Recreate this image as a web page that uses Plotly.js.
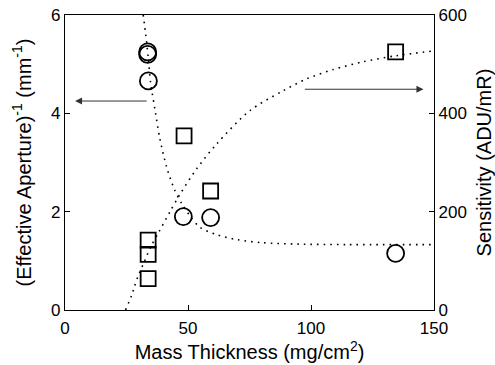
<!DOCTYPE html>
<html>
<head>
<meta charset="utf-8">
<script src="https://cdn.plot.ly/plotly-3.0.1.min.js"></script>
<style>html,body{margin:0;padding:0;background:#fff;}#chart{width:495px;height:365px;}</style>
</head>
<body>
<div id="chart"></div>
<script>
// Measured points: inverse effective aperture (left axis, circles)
var apertureX = [33.6, 33.6, 33.9, 48.1, 59.2, 134.4];
var apertureY = [5.25, 5.20, 4.66, 1.90, 1.88, 1.15];
// Measured points: sensitivity (right axis, squares)
var sensX = [33.8, 33.8, 33.8, 48.4, 59.2, 134.4];
var sensY = [142, 113, 64, 354, 242, 525];
var apFitX = [31.8, 32.8, 33.8, 34.8, 36.5, 38.5, 41.3, 44.5, 47.4, 51, 54.9, 61.7, 70, 80, 95, 115, 150];
var apFitY = [6.0, 5.6, 5.15, 4.62, 4.1, 3.5, 2.91, 2.45, 2.17, 1.9, 1.68, 1.53, 1.43, 1.37, 1.34, 1.33, 1.33];
var sensFitX = [24.6, 27.1, 28.2, 29.5, 32.2, 35, 38.2, 42.7, 46.7, 53.5, 61.7, 75, 88.7, 98.2, 109, 121.3, 134.4, 150];
var sensFitY = [0, 30, 47, 66, 98, 130, 159, 200, 235, 287, 338, 405, 446, 470, 489, 505, 517, 527];
// Axis ticks
var xTicks = [0, 50, 100, 150];
var yTicks = [0, 2, 4, 6];
var y2Ticks = [0, 200, 400, 600];

var FONT = 'Liberation Sans, Arial, Helvetica, sans-serif';
var dotDash = '1.6px,5px';

var traces = [
  {x: apFitX, y: apFitY, mode: 'lines', line: {shape: 'spline', smoothing: 0.8, color: '#000', width: 1.6, dash: dotDash}, hoverinfo: 'skip', yaxis: 'y'},
  {x: sensFitX, y: sensFitY, mode: 'lines', line: {shape: 'spline', smoothing: 0.8, color: '#000', width: 1.6, dash: dotDash}, hoverinfo: 'skip', yaxis: 'y2'},
  {x: apertureX, y: apertureY, mode: 'markers', marker: {symbol: 'circle-open', size: 17, color: '#000', line: {color: '#000', width: 1.8}}, yaxis: 'y'},
  {x: sensX, y: sensY, mode: 'markers', marker: {symbol: 'square-open', size: 15, color: '#000', line: {color: '#000', width: 1.8}}, yaxis: 'y2'}
];

var layout = {
  width: 495, height: 365,
  margin: {l: 65, r: 61, t: 15, b: 55},
  paper_bgcolor: '#fff', plot_bgcolor: '#fff',
  showlegend: false,
  font: {family: FONT, size: 17, color: '#000'},
  xaxis: {
    range: [0, 150], tickvals: xTicks, ticktext: xTicks.map(String),
    ticks: 'inside', ticklen: 5, tickwidth: 1, tickcolor: '#000',
    showline: true, linecolor: '#000', linewidth: 1.2, mirror: true,
    showgrid: false, zeroline: false, ticklabelstandoff: 2,
    tickfont: {family: FONT, size: 17},
    title: {text: 'Mass Thickness (mg/cm<sup>2</sup>)', font: {family: FONT, size: 20}, standoff: 0}
  },
  yaxis: {
    range: [0, 6], tickvals: yTicks, ticktext: yTicks.map(String),
    ticks: 'inside', ticklen: 5, tickwidth: 1, tickcolor: '#000',
    showline: true, linecolor: '#000', linewidth: 1.2,
    showgrid: false, zeroline: false,
    tickfont: {family: FONT, size: 17},
    title: {text: '(Effective Aperture)<sup>-1</sup> (mm<sup>-1</sup>)', font: {family: FONT, size: 20}, standoff: 14}
  },
  yaxis2: {
    range: [0, 600], tickvals: y2Ticks, ticktext: y2Ticks.map(String),
    overlaying: 'y', side: 'right',
    ticks: 'inside', ticklen: 5, tickwidth: 1, tickcolor: '#000',
    showline: true, linecolor: '#000', linewidth: 1.2,
    showgrid: false, zeroline: false,
    tickfont: {family: FONT, size: 17},
    title: {text: 'Sensitivity (ADU/mR)', font: {family: FONT, size: 20}, standoff: 13}
  },
  annotations: [
    {x: 4.1, y: 4.25, xref: 'x', yref: 'y', ax: 33.8, ay: 4.25, axref: 'x', ayref: 'y',
     text: '', showarrow: true, arrowhead: 2, arrowsize: 1.4, arrowwidth: 1, arrowcolor: '#333'},
    {x: 145.7, y: 4.49, xref: 'x', yref: 'y', ax: 96.9, ay: 4.49, axref: 'x', ayref: 'y',
     text: '', showarrow: true, arrowhead: 2, arrowsize: 1.4, arrowwidth: 1, arrowcolor: '#333'}
  ]
};

Plotly.newPlot('chart', traces, layout, {staticPlot: true, displayModeBar: false});
</script>
</body>
</html>
